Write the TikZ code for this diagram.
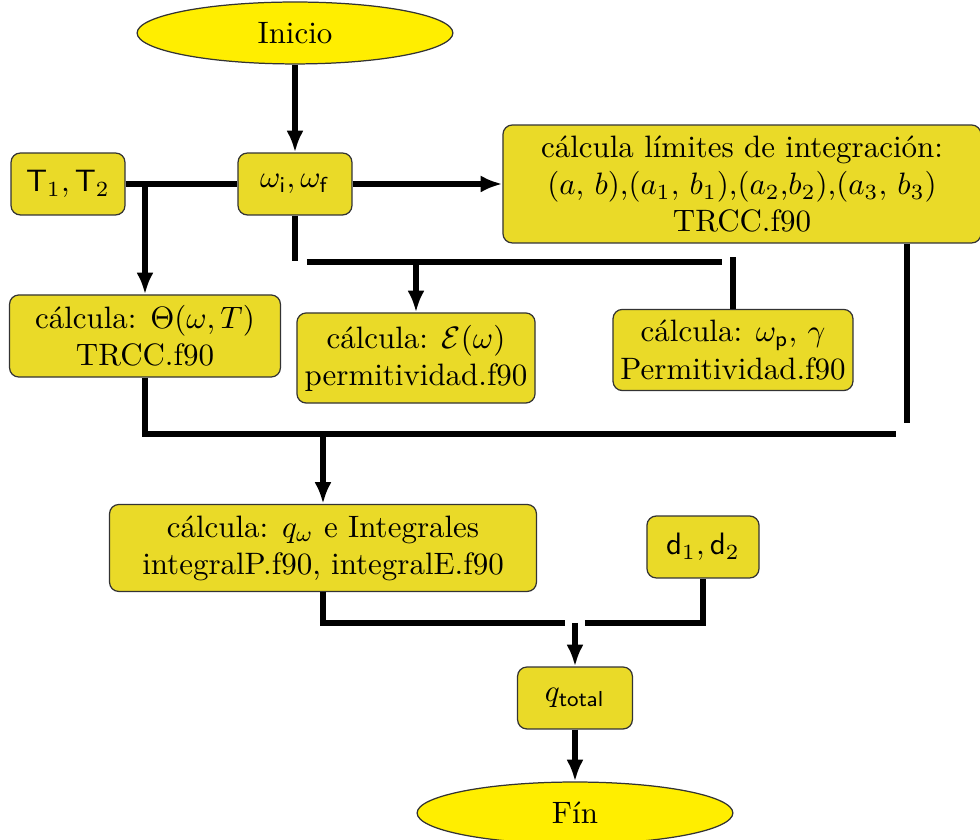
\documentclass[tikz,border=0pt]{standalone}
\usetikzlibrary{arrows.meta,shapes.geometric}
\definecolor{BoxYellow}{RGB}{234,218,40}
\definecolor{EndYellow}{RGB}{255,238,0}

\begin{document}
\begin{tikzpicture}[x=0.323pt,y=-0.323pt,
  caja/.style={draw=black!80,fill=BoxYellow,rounded corners=3pt,align=center,inner sep=0pt},
  borde/.style={draw=black!80,fill=EndYellow,ellipse,inner sep=0pt,minimum width=102pt,minimum height=20pt},
  linea/.style={line width=1.9pt},
  flecha/.style={line width=1.9pt,-{Latex[length=7pt,width=5.5pt]}}]
\useasboundingbox (0,0) rectangle (980,840);
\node[borde] (ini) at (295,33) {Inicio};
\node[caja,minimum width=36.8pt,minimum height=20pt] (T) at (68,184) {$\mathsf{T}_1,\mathsf{T}_2$};
\node[caja,minimum width=36.8pt,minimum height=20pt] (om) at (295,184) {$\omega_\mathsf{i},\omega_\mathsf{f}$};
\node[caja,minimum width=154.4pt,minimum height=38.1pt] (lim) at (742,184)
  {cálcula límites de integración:\\$(a,\,b)$,$(a_1,\,b_1)$,$(a_2$,$b_2)$,$(a_3,\,b_3)$\\TRCC.f90};
\node[caja,minimum width=87.5pt,minimum height=26.5pt] (th) at (145,336) {cálcula: $\Theta(\omega,T)$\\TRCC.f90};
\node[caja,minimum width=76.9pt,minimum height=29.1pt] (eps) at (416,358) {cálcula: $\mathcal{E}(\omega)$\\permitividad.f90};
\node[caja,minimum width=77.5pt,minimum height=26.2pt] (wp) at (733,350) {cálcula: $\omega_\mathsf{p}$, $\gamma$\\Permitividad.f90};
\node[caja,minimum width=137.9pt,minimum height=28.1pt] (qw) at (323,548) {cálcula: $q_\omega$ e Integrales\\integralP.f90, integralE.f90};
\node[caja,minimum width=36.2pt,minimum height=20pt] (d) at (703,547) {$\mathsf{d}_1,\mathsf{d}_2$};
\node[caja,minimum width=37.1pt,minimum height=20pt] (qt) at (575,698) {$q_\mathsf{total}$};
\node[borde] (fin) at (575,813) {Fín};
\coordinate (busA) at (307,262);
\coordinate (busB) at (722,262);
\coordinate (r1) at (907,423);
\coordinate (busC) at (145,434);
\coordinate (busD) at (896,434);
\coordinate (busE) at (565,623);
\coordinate (busF) at (585,623);
\draw[flecha] (ini) -- (om);
\draw[linea] (T) -- (om);
\draw[flecha] (th |- T) -- (th);
\draw[flecha] (om) -- (lim);
\draw[linea] (om.south) -- ++(0,45);
\draw[linea] (busA) -- (busB);
\draw[flecha] (busA -| eps) -- (eps);
\draw[linea] (wp.north) -- ++(0,-52);
\draw[linea] (r1 |- lim.south) -- (r1);
\draw[linea] (th) -- (busC) -- (busD);
\draw[flecha] (busC -| qw) -- (qw);
\draw[linea] (qw) |- (busE);
\draw[linea] (busF) -| (d);
\draw[flecha] (qt |- busE) -- (qt);
\draw[flecha] (qt) -- (fin);
\end{tikzpicture}
\end{document}
